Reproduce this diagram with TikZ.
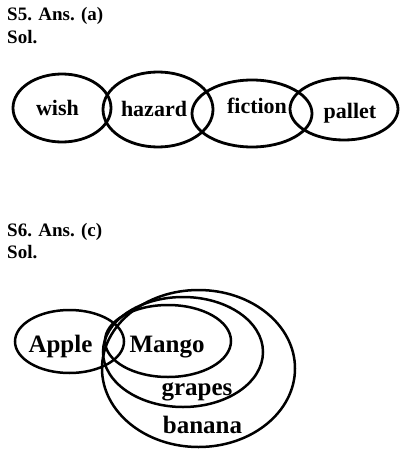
\documentclass[tikz,border=0pt]{standalone}
\usepackage{fontspec}
\setmainfont{Liberation Serif}
\begin{document}
\begin{tikzpicture}[x=1pt,y=-1pt,
  head/.style={anchor=base west,inner sep=0pt,font=\bfseries\fontsize{19}{22}\selectfont},
  lab/.style={anchor=base,inner sep=0pt,font=\bfseries\fontsize{22}{26}\selectfont},
  labb/.style={anchor=base,inner sep=0pt,font=\bfseries\fontsize{25}{30}\selectfont},
  ring/.style={draw=black,line width=2.8pt},
  ringb/.style={draw=black,line width=2.5pt}]
\useasboundingbox (0,0) rectangle (413,461);
% S5
\node[head] (h5) at (7,20) {S5. Ans. (a)};
\node[head] (s5) at (7,43) {Sol.};
\draw[ring] (62,108) ellipse [x radius=49,y radius=34];
\draw[ring] (158,109.5) ellipse [x radius=55,y radius=37.5];
\draw[ring] (252,113.5) ellipse [x radius=60,y radius=33.5];
\draw[ring] (344,109) ellipse [x radius=54,y radius=31];
\node[lab] (wish) at (57.5,115) {wish};
\node[lab] (hazard) at (154,116) {hazard};
\node[lab] (fiction) at (257,113) {fiction};
\node[lab] (pallet) at (350,118) {pallet};
% S6
\node[head] (h6) at (7,236) {S6. Ans. (c)};
\node[head] (s6) at (7,258) {Sol.};
\draw[ringb] (69.5,341.5) ellipse [x radius=54.5,y radius=31.5];
\draw[ringb] (168,341) ellipse [x radius=63,y radius=36];
\draw[ringb] (183,352) ellipse [x radius=80,y radius=55];
\draw[ringb] (198.5,368.5) ellipse [x radius=96.5,y radius=78.5];
\node[labb] (apple) at (60.5,352) {Apple};
\node[labb] (mango) at (167,352) {Mango};
\node[labb] (grapes) at (197,395) {grapes};
\node[labb] (banana) at (202.5,433) {banana};
\end{tikzpicture}
\end{document}
